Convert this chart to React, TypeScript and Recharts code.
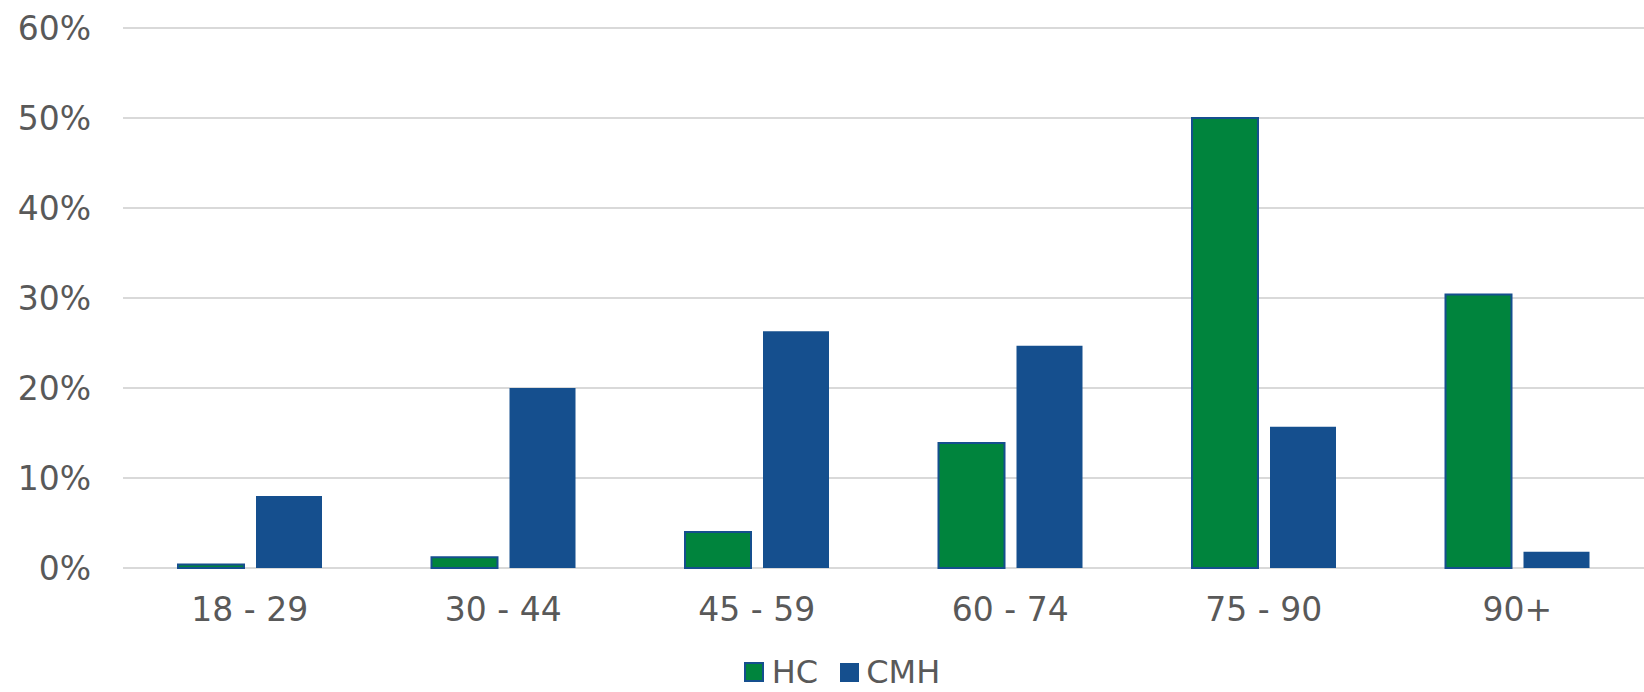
import React from 'react';
import {
  BarChart,
  Bar,
  XAxis,
  YAxis,
  CartesianGrid,
  Legend
} from 'recharts';

const ageGroups = ['18 - 29', '30 - 44', '45 - 59', '60 - 74', '75 - 90', '90+'];
const hcValues = [0.4, 1.2, 4.0, 13.9, 50.0, 30.4];
const cmhValues = [8.0, 20.0, 26.3, 24.7, 15.7, 1.8];
const yTicks = [0, 10, 20, 30, 40, 50, 60];

const GREEN = '#00843D';
const BLUE = '#154F8E';
const TEXT = '#595959';
const FONT = '"DejaVu Sans", Verdana, sans-serif';

const data = ageGroups.map((group, i) => ({
  group,
  HC: hcValues[i],
  CMH: cmhValues[i],
}));

const LegendContent = () => (
  <div
    style={{
      display: 'flex',
      justifyContent: 'center',
      alignItems: 'center',
      height: 40,
      fontFamily: FONT,
      fontSize: 32,
      color: TEXT,
      paddingLeft: 40,
    }}
  >
    <span
      style={{
        display: 'inline-block',
        width: 16,
        height: 16,
        background: GREEN,
        border: `2px solid ${BLUE}`,
        marginRight: 8,
      }}
    />
    <span style={{ marginRight: 22 }}>HC</span>
    <span
      style={{
        display: 'inline-block',
        width: 19,
        height: 19,
        background: BLUE,
        marginRight: 7,
      }}
    />
    <span>CMH</span>
  </div>
);

const App: React.FC = () => {
  return (
    <div style={{ position: 'absolute', left: 0, top: 0, background: '#fff' }}>
      <BarChart
        width={1644}
        height={692}
        data={data}
        margin={{ top: 28, right: 0, bottom: 0, left: 0 }}
        barSize={66}
        barGap={12}
      >
        <CartesianGrid vertical={false} stroke="#D9D9D9" strokeWidth={2} />
        <XAxis
          dataKey="group"
          axisLine={false}
          tickLine={false}
          tickSize={28}
          tickMargin={2}
          height={84}
          tick={{ fill: TEXT, fontSize: 33, fontFamily: FONT }}
        />
        <YAxis
          width={123}
          domain={[0, 60]}
          ticks={yTicks}
          axisLine={false}
          tickLine={false}
          tickSize={30}
          tickMargin={2}
          tickFormatter={(v: number) => `${v}%`}
          tick={{ fill: TEXT, fontSize: 33, fontFamily: FONT }}
        />
        <Legend verticalAlign="bottom" height={40} content={<LegendContent />} />
        <Bar
          dataKey="HC"
          fill={GREEN}
          stroke={BLUE}
          strokeWidth={2}
          isAnimationActive={false}
        />
        <Bar dataKey="CMH" fill={BLUE} isAnimationActive={false} />
      </BarChart>
    </div>
  );
};

export default App;
